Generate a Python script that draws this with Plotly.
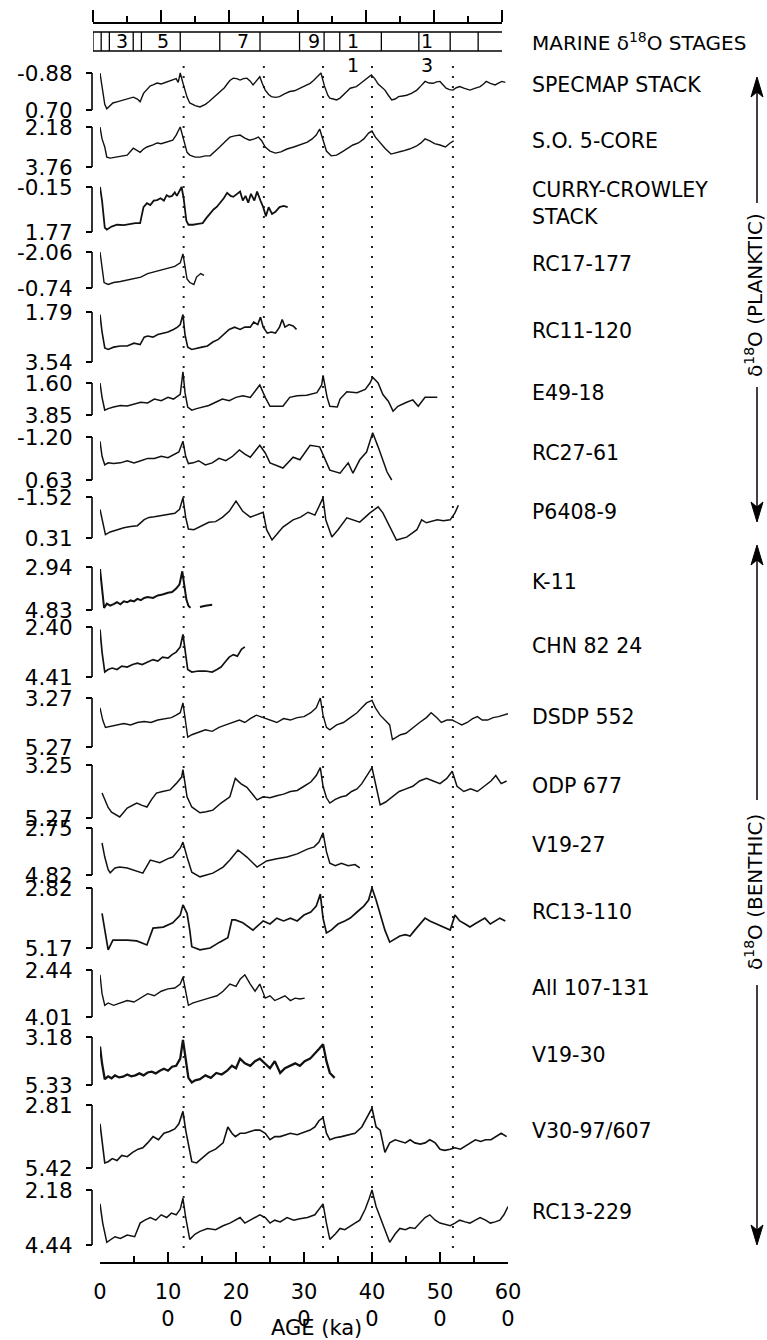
import plotly.graph_objects as go

W, H = 767, 1340

# ---------------- data ----------------
core_names = ["SPECMAP STACK", "S.O. 5-CORE", "CURRY-CROWLEY<br>STACK", "RC17-177", "RC11-120",
              "E49-18", "RC27-61", "P6408-9", "K-11", "CHN 82 24", "DSDP 552", "ODP 677",
              "V19-27", "RC13-110", "All 107-131", "V19-30", "V30-97/607", "RC13-229"]
top_vals = [-0.88, 2.18, -0.15, -2.06, 1.79, 1.60, -1.20, -1.52, 2.94, 2.40, 3.27, 3.25,
            2.75, 2.82, 2.44, 3.18, 2.81, 2.18]
bottom_vals = [0.70, 3.76, 1.77, -0.74, 3.54, 3.85, 0.63, 0.31, 4.83, 4.41, 5.27, 5.27,
               4.82, 5.17, 4.01, 5.33, 5.42, 4.44]

age_01 = [0,3,7,10,15,19,25,30,40,49,55,59,64,69,74,78,84,90,96,102,107,112,115,118,122,126,128,132,140,147,155,160,166,172,178,183,187,191,196,201,206,211,216,221,225,230,235,239,243,248,252,258,264,272,279,286,294,300,309,314,318,322,325,330,335,338,343,348,353,358,363,368,372,377,382,387,393,399,404,409,414,419,424,429,434,439,445,451,458,466,472,478,484,490,495,500,505,509,514,519,524,529,536,544,551,559,564,568,574,581,586,591,596]
d18o_01 = [-0.88,-0.25,0.46,0.65,0.51,0.40,0.35,0.31,0.23,0.15,0.23,0.35,-0.01,-0.15,-0.33,-0.37,-0.45,-0.41,-0.48,-0.53,-0.58,-0.64,-0.48,-0.88,-0.45,-0.01,0.15,0.40,0.51,0.57,0.46,0.35,0.19,0.07,-0.09,-0.25,-0.41,-0.56,-0.66,-0.64,-0.58,-0.64,-0.66,-0.53,-0.37,-0.56,-0.72,-0.41,-0.15,0.04,0.13,0.16,0.13,0.00,-0.09,-0.12,-0.23,-0.31,-0.44,-0.56,-0.66,-0.79,-0.88,-0.33,0.07,0.19,0.23,0.27,0.19,0.07,-0.09,-0.23,-0.26,-0.30,-0.41,-0.52,-0.64,-0.80,-0.64,-0.41,-0.28,-0.15,0.07,0.27,0.23,0.13,0.10,0.07,-0.01,-0.15,-0.33,-0.52,-0.45,-0.44,-0.50,-0.52,-0.36,-0.23,-0.17,-0.15,-0.25,-0.30,-0.22,-0.15,-0.22,-0.30,-0.41,-0.52,-0.44,-0.37,-0.45,-0.52,-0.48]

age_02 = [0,3,7,10,15,22,30,40,49,55,59,64,69,78,84,90,98,104,107,112,115,118,122,128,132,140,147,155,162,170,176,185,191,198,206,213,220,227,233,238,243,250,258,266,275,285,295,305,312,318,323,328,333,340,348,356,365,372,380,388,395,400,405,412,420,428,435,445,455,465,472,478,485,492,500,508,515,520]
d18o_02 = [2.18,2.65,2.97,3.37,3.41,3.37,3.32,3.29,3.02,3.13,3.18,3.05,2.97,2.89,2.81,2.84,2.78,2.73,2.70,2.50,2.31,2.18,2.58,3.18,3.29,3.37,3.37,3.32,3.32,3.13,2.97,2.73,2.58,2.53,2.50,2.62,2.70,2.65,2.58,2.73,2.97,3.13,3.21,3.16,3.05,2.97,2.89,2.78,2.65,2.50,2.26,2.73,3.13,3.32,3.29,3.16,3.00,2.89,2.81,2.65,2.42,2.34,2.58,2.81,3.05,3.25,3.21,3.13,3.05,2.94,2.81,2.65,2.73,2.84,2.89,2.97,2.81,2.73]

age_03 = [0,3,7,10,17,25,35,45,52,59,64,69,74,79,84,89,94,98,102,106,110,113,117,120,123,127,130,137,144,151,156,162,167,172,177,182,187,192,196,201,206,210,214,218,222,227,231,236,240,244,248,253,258,264,270,276]
d18o_03 = [-0.15,0.43,1.58,1.67,1.54,1.46,1.48,1.42,1.39,1.39,0.71,0.54,0.62,0.43,0.41,0.33,0.43,0.20,0.27,0.23,0.08,0.23,0.04,-0.15,0.33,1.29,1.46,1.46,1.42,1.39,1.19,0.96,0.81,0.69,0.52,0.33,0.10,0.23,0.27,0.14,0.04,0.43,0.23,0.52,0.14,0.43,0.04,0.43,0.71,1.10,0.71,1.00,0.91,0.71,0.66,0.71]

age_04 = [0,3,6,12,20,30,40,50,60,70,80,90,100,110,118,122,125,128,132,138,142,148,153]
d18o_04 = [-2.06,-1.40,-0.94,-0.87,-0.94,-0.98,-1.03,-1.07,-1.14,-1.27,-1.33,-1.40,-1.47,-1.53,-1.66,-1.99,-1.53,-1.07,-0.94,-0.87,-1.14,-1.27,-1.20]

age_05 = [0,3,7,12,20,30,40,50,59,65,70,78,85,92,100,108,114,118,122,125,129,135,142,150,158,166,174,182,190,198,206,213,221,226,232,236,240,246,252,258,264,268,272,278,284,289]
d18o_05 = [1.88,2.49,3.05,3.10,3.02,2.98,2.98,2.88,2.93,2.67,2.63,2.67,2.58,2.53,2.49,2.40,2.32,2.23,1.88,2.58,3.02,3.10,3.05,3.02,2.98,2.84,2.75,2.58,2.40,2.32,2.40,2.32,2.32,2.14,2.23,1.97,2.32,2.53,2.49,2.53,2.32,2.05,2.32,2.23,2.28,2.40]

age_06 = [0,3,7,12,20,30,40,50,60,70,80,90,100,108,114,118,122,125,129,135,142,150,160,170,180,190,200,210,221,235,243,250,260,269,279,290,304,319,326,328,334,338,349,353,363,378,390,397,401,409,416,424,431,438,451,460,468,478,487,496]
d18o_06 = [1.60,2.61,3.51,3.40,3.29,3.18,3.22,3.06,2.95,3.00,2.73,2.84,2.61,2.73,2.50,2.39,0.81,2.28,3.29,3.51,3.40,3.29,3.18,2.95,2.73,2.84,2.61,2.50,2.61,1.74,2.61,3.24,3.22,3.24,2.61,2.50,2.46,2.28,1.74,1.06,2.61,3.24,3.29,2.73,2.21,2.28,2.05,1.60,1.20,1.60,2.41,2.88,3.58,3.24,2.95,2.79,3.24,2.61,2.61,2.61]

age_07 = [0,3,7,12,20,30,40,50,60,70,80,90,100,110,116,122,126,130,137,145,155,165,175,185,195,205,213,221,235,243,250,269,284,294,309,323,338,353,365,372,382,392,401,409,416,422,429]
d18o_07 = [-1.02,-0.38,-0.01,-0.10,-0.07,-0.10,-0.19,-0.10,-0.19,-0.29,-0.29,-0.38,-0.32,-0.47,-0.56,-1.02,-0.38,-0.07,-0.10,-0.19,-0.01,-0.10,-0.29,-0.19,-0.38,-0.65,-0.47,-0.34,-0.85,-0.52,-0.10,0.12,-0.34,-0.23,-0.85,-0.78,0.21,0.34,-0.10,0.34,-0.23,-0.56,-1.38,-0.78,-0.23,0.28,0.63]

age_08 = [0,4,8,15,25,35,45,55,65,72,80,90,100,110,117,122,126,130,138,147,160,170,180,190,200,210,221,240,245,253,269,284,295,306,316,328,332,341,350,363,382,397,409,416,426,436,451,466,473,480,496,505,515,522,527]
d18o_08 = [-0.97,-0.42,0.16,0.04,-0.06,-0.15,-0.20,-0.24,-0.51,-0.61,-0.64,-0.70,-0.75,-0.79,-0.97,-1.48,-0.61,-0.09,-0.06,-0.20,-0.39,-0.42,-0.61,-0.88,-1.34,-0.88,-0.62,-0.84,-0.06,0.40,-0.18,-0.50,-0.62,-0.84,-0.71,-1.48,-0.50,0.27,-0.06,-0.59,-0.40,-0.81,-1.08,-0.81,-0.18,0.40,0.27,-0.06,-0.50,-0.37,-0.50,-0.46,-0.50,-0.81,-1.15]

age_09 = [0,3,6,10,15,20,25,30,35,40,45,50,55,60,65,70,78,85,92,100,106,112,117,121,124,127,130,133,None,147,155,165]
d18o_09 = [3.03,4.07,4.74,4.55,4.64,4.57,4.49,4.58,4.45,4.49,4.41,4.45,4.34,4.40,4.30,4.26,4.30,4.19,4.15,4.07,4.04,3.89,3.70,3.13,3.70,4.36,4.64,4.74,None,4.70,4.64,4.60]

age_10 = [0,3,7,12,18,25,32,40,48,55,62,70,78,85,92,100,106,112,118,122,125,129,135,145,155,165,172,178,184,190,196,202,208,213]
d18o_10 = [2.50,3.41,4.21,4.11,4.05,4.11,3.97,4.01,3.91,3.85,3.91,3.81,3.71,3.77,3.61,3.65,3.51,3.41,3.20,2.70,3.41,4.11,4.21,4.17,4.17,4.21,4.11,4.01,3.81,3.61,3.51,3.57,3.30,3.20]

age_11 = [0,4,8,15,25,35,45,55,65,75,85,95,105,112,118,122,126,129,135,145,155,165,175,185,195,205,213,221,230,240,250,260,270,280,290,300,310,318,324,328,333,338,348,358,368,378,385,392,400,405,412,419,426,430,436,442,450,460,470,480,487,495,502,510,518,525,532,540,548,555,562,570,578,586,594,600]
d18o_11 = [3.67,4.17,4.47,4.43,4.37,4.31,4.37,4.27,4.23,4.27,4.17,4.11,4.07,3.97,3.87,3.47,4.17,4.87,4.77,4.67,4.57,4.63,4.47,4.37,4.27,4.17,4.27,4.11,3.97,4.07,4.17,4.27,4.11,4.17,4.07,4.03,3.87,3.67,3.27,3.97,4.47,4.57,4.37,4.27,4.07,3.87,3.67,3.47,3.37,3.67,3.97,4.17,4.37,4.97,4.87,4.77,4.71,4.47,4.27,4.07,3.87,4.07,4.27,4.17,4.17,4.27,4.37,4.27,4.11,4.03,4.17,4.17,4.07,4.03,3.97,3.91]

age_12 = [3,7,12,17,29,40,54,62,69,76,83,92,103,112,120,122,125,128,135,147,156,166,178,191,199,207,216,231,240,250,260,270,280,290,300,310,318,324,328,333,338,346,355,362,370,378,385,392,400,406,412,420,430,440,450,460,470,480,490,500,510,518,525,535,545,555,565,575,582,590,598]
d18o_12 = [4.32,4.58,4.87,5.05,5.23,4.89,4.70,4.79,4.85,4.56,4.32,4.26,4.20,3.96,3.71,3.43,3.94,4.46,4.85,5.07,5.03,4.97,4.70,4.46,3.76,3.96,4.10,4.58,4.46,4.50,4.42,4.36,4.26,4.22,4.06,3.90,3.65,3.35,4.06,4.50,4.70,4.56,4.46,4.42,4.26,4.16,3.96,3.65,3.35,4.06,4.77,4.66,4.46,4.26,4.16,4.06,3.86,3.76,3.86,3.96,3.76,3.49,4.06,4.26,4.16,4.26,4.06,3.86,3.65,3.96,3.86]

age_13 = [3,7,12,15,22,29,40,51,63,74,88,100,107,118,122,128,135,147,166,181,191,203,216,231,245,260,275,290,305,315,322,328,333,338,346,355,365,375,382]
d18o_13 = [3.41,4.03,4.59,4.72,4.51,4.47,4.51,4.61,4.74,4.16,4.28,4.10,4.03,3.64,3.37,4.03,4.70,4.90,4.74,4.47,4.16,3.72,4.03,4.47,4.20,4.10,4.03,3.89,3.68,3.58,3.37,2.96,3.79,4.30,4.41,4.30,4.41,4.36,4.51]

age_14 = [3,7,12,19,26,40,54,69,78,93,107,118,122,128,132,135,147,162,176,188,194,199,210,225,240,250,260,270,280,290,300,310,318,324,328,333,340,350,360,368,378,388,395,400,406,412,419,426,434,441,449,456,463,470,478,485,495,505,515,522,529,537,544,551,559,566,574,581,588,596]
d18o_14 = [3.81,4.47,5.24,4.86,4.86,4.86,4.89,5.05,4.39,4.35,4.18,3.88,3.48,3.81,4.47,5.12,5.24,5.17,4.94,4.77,4.07,4.07,4.18,4.47,4.11,4.23,4.00,4.11,4.00,4.11,3.88,3.76,3.53,3.06,4.00,4.58,4.47,4.23,4.11,4.00,3.76,3.53,3.29,2.82,3.29,3.88,4.47,4.94,4.82,4.70,4.65,4.70,4.47,4.23,4.00,4.11,4.23,4.35,4.47,3.88,4.11,4.23,4.35,4.23,4.11,4.00,4.23,4.11,4.00,4.11]

age_15 = [0,3,7,12,20,30,40,50,60,70,80,90,100,110,118,122,126,130,137,147,160,172,181,191,200,206,213,221,228,235,243,250,257,265,272,280,287,294,301]
d18o_15 = [2.60,3.23,3.62,3.54,3.62,3.54,3.46,3.51,3.38,3.23,3.30,3.15,3.07,3.04,2.91,2.68,3.15,3.62,3.54,3.46,3.38,3.30,3.15,2.91,2.99,2.75,2.60,2.91,3.15,2.91,3.38,3.30,3.46,3.38,3.30,3.46,3.38,3.41,3.38]

age_16 = [0,3,7,12,17,22,28,34,40,46,52,58,64,70,76,82,88,94,100,106,112,118,122,126,130,135,140,147,155,163,171,179,187,194,200,206,213,221,228,235,243,250,257,265,272,280,287,294,301,309,316,322,328,333,338,345]
d18o_16 = [3.61,4.36,5.07,4.94,5.03,4.90,4.99,4.96,4.86,4.94,4.90,4.81,4.90,4.77,4.73,4.81,4.69,4.60,4.69,4.51,4.47,4.15,3.31,4.26,5.01,5.22,5.12,5.07,4.90,5.01,4.79,4.86,4.69,4.47,4.58,4.15,4.36,4.47,4.26,4.15,4.36,4.58,4.26,4.79,4.58,4.47,4.36,4.47,4.26,4.15,3.93,3.72,3.50,4.26,4.79,5.01]

age_17 = [0,3,7,12,18,25,32,40,48,56,63,70,78,86,94,102,110,116,122,126,130,135,142,150,160,170,181,188,194,199,206,213,221,228,235,243,250,257,265,272,280,290,300,309,316,322,328,333,338,346,355,365,375,385,393,400,406,412,419,426,434,441,449,456,463,471,478,485,493,500,507,515,522,530,537,545,552,560,567,575,582,590,598]
d18o_17 = [3.59,4.38,5.21,5.16,5.03,5.11,4.90,4.95,4.77,4.64,4.58,4.38,4.12,4.25,3.98,3.91,3.80,3.59,3.07,3.85,4.51,5.16,5.21,5.03,4.77,4.64,4.38,3.72,3.98,4.12,3.98,3.98,3.91,3.85,3.85,3.98,4.25,4.12,4.12,4.06,3.98,4.04,3.93,3.85,3.72,3.46,3.33,3.98,4.25,4.17,4.12,4.06,3.98,3.72,3.33,2.94,3.72,3.85,4.77,4.38,4.25,4.32,4.38,4.25,4.38,4.43,4.38,4.25,4.38,4.64,4.69,4.64,4.58,4.64,4.51,4.38,4.25,4.32,4.25,4.25,4.12,3.98,4.12]

age_18 = [0,4,10,16,22,30,40,51,59,66,74,82,90,98,105,112,118,122,126,132,140,147,158,170,181,191,199,206,213,221,228,235,243,250,257,265,275,285,294,305,316,322,328,333,338,346,353,360,368,375,382,390,396,400,406,412,419,426,434,441,449,456,463,471,478,485,493,500,507,515,522,529,537,544,552,559,567,574,581,588,594,600]
d18o_18 = [2.75,3.54,4.33,4.21,4.10,4.17,4.03,4.10,3.54,3.42,3.31,3.42,3.20,3.31,3.13,3.20,2.97,2.52,3.31,4.21,3.99,3.88,3.76,3.81,3.65,3.54,3.42,3.31,3.54,3.42,3.31,3.20,3.31,3.54,3.42,3.49,3.31,3.42,3.36,3.31,3.20,2.97,2.75,3.54,4.21,3.99,3.76,3.81,3.65,3.54,3.42,2.97,2.52,2.18,2.86,3.31,3.76,4.33,3.99,3.76,3.81,3.72,3.76,3.54,3.31,3.20,3.42,3.54,3.58,3.65,3.54,3.42,3.49,3.54,3.42,3.31,3.42,3.54,3.49,3.42,3.20,2.86]

ages = [age_01, age_02, age_03, age_04, age_05, age_06, age_07, age_08, age_09,
        age_10, age_11, age_12, age_13, age_14, age_15, age_16, age_17, age_18]
d18o = [d18o_01, d18o_02, d18o_03, d18o_04, d18o_05, d18o_06, d18o_07, d18o_08, d18o_09,
        d18o_10, d18o_11, d18o_12, d18o_13, d18o_14, d18o_15, d18o_16, d18o_17, d18o_18]

age_ticks = [0, 100, 200, 300, 400, 500, 600]
age_ticktext = ["0", "10<br>0", "20<br>0", "30<br>0", "40<br>0", "50<br>0", "60<br>0"]
age_minor = [50, 150, 250, 350, 450, 550]

stage_boundaries = [12, 24, 59, 71, 128, 186, 245, 303, 339, 362, 423, 478, 524, 565]
stage_labels = ["3", "5", "7", "9", "1", "1"]
stage_label_ages = [42, 103, 220, 324, 381, 490]
stage_label2 = ["", "", "", "", "1", "3"]
terminations = [123, 241, 328, 400, 519]

# ---------------- layout geometry (pixels) ----------------
row_top_px = [73, 127, 187, 252, 312, 383, 437, 497, 567, 627, 698, 765, 828, 888, 970, 1037, 1105, 1190]
row_bot_px = [110, 167, 232, 288, 362, 415, 480, 538, 610, 677, 747, 818, 875, 948, 1017, 1085, 1168, 1245]
line_widths = [1.4, 1.4, 1.8, 1.4, 1.6, 1.5, 1.5, 1.5, 2.0, 1.7, 1.4, 1.5, 1.5, 1.7, 1.4, 2.3, 1.6, 1.5]

FONT = "DejaVu Sans"
X0, X1 = 100 / W, 508 / W
YAX_POS = 92 / W


def py(p):
    return 1 - p / H


fig = go.Figure()
layout = dict(width=W, height=H, margin=dict(l=0, r=0, t=0, b=0, pad=0, autoexpand=False),
              paper_bgcolor="white", plot_bgcolor="rgba(0,0,0,0)",
              showlegend=False, font=dict(family=FONT, color="black"))
shapes = []
annotations = []

for i in range(18):
    k = i + 1
    xa = "x" if k == 1 else f"x{k}"
    ya = "y" if k == 1 else f"y{k}"
    fig.add_trace(go.Scatter(x=ages[i], y=d18o[i], mode="lines", xaxis=xa, yaxis=ya,
                             line=dict(color="#111111", width=line_widths[i]),
                             connectgaps=False, hoverinfo="skip"))
    t, b = top_vals[i], bottom_vals[i]
    tp, bp = row_top_px[i], row_bot_px[i]
    pad_t, pad_b = 16, 10

    def v_at(p):
        return t + (p - tp) / (bp - tp) * (b - t)

    layout["xaxis" if k == 1 else f"xaxis{k}"] = dict(domain=[X0, X1], range=[0, 600], visible=False,
                                                      anchor=ya, fixedrange=True)
    layout["yaxis" if k == 1 else f"yaxis{k}"] = dict(
        domain=[py(bp + pad_b), py(tp - pad_t)], range=[v_at(bp + pad_b), v_at(tp - pad_t)],
        anchor="free", position=YAX_POS, tickvals=[t, b], ticktext=[f"{t:.2f}", f"{b:.2f}"],
        ticks="outside", ticklen=6, tickwidth=1.6, tickcolor="black", showline=False,
        showgrid=False, zeroline=False, ticklabelstandoff=9, automargin=False,
        tickfont=dict(size=21.5, family=FONT, color="black"), fixedrange=True)
    shapes.append(dict(type="line", xref="paper", yref=ya, x0=YAX_POS, x1=YAX_POS, y0=t, y1=b,
                       line=dict(color="black", width=1.6)))
    yc = (tp + bp) / 2 - 6
    annotations.append(dict(x=530 / W, y=py(yc), xref="paper", yref="paper", xanchor="left",
                            yanchor="middle", align="left", text=core_names[i], showarrow=False,
                            font=dict(size=20.5, family=FONT, color="black")))

# bottom age axis
fig.add_trace(go.Scatter(x=[0], y=[0], mode="markers", marker=dict(opacity=0), xaxis="x19",
                         yaxis="y19", hoverinfo="skip"))
layout["xaxis19"] = dict(domain=[X0, X1], range=[0, 600], anchor="free", position=py(1263),
                         side="bottom", showline=True, linecolor="black", linewidth=1.6,
                         ticks="inside", ticklen=10, tickwidth=1.6, tickcolor="black",
                         tickvals=age_ticks, ticktext=age_ticktext, showgrid=False, zeroline=False,
                         tickfont=dict(size=21, family=FONT, color="black"), ticklabelstandoff=10,
                         automargin=False,
                         minor=dict(tickvals=age_minor, ticks="inside", ticklen=6, tickwidth=1.6,
                                    tickcolor="black"), fixedrange=True)
layout["yaxis19"] = dict(domain=[0, 0.02], visible=False, anchor="x19", fixedrange=True)

# top stage axis
TX0, TX1 = 93 / W, 502 / W
fig.add_trace(go.Scatter(x=[0], y=[0], mode="markers", marker=dict(opacity=0), xaxis="x20",
                         yaxis="y20", hoverinfo="skip"))
layout["xaxis20"] = dict(domain=[TX0, TX1], range=[0, 600], anchor="free", position=py(23),
                         side="top", showline=True, linecolor="black", linewidth=1.6,
                         ticks="outside", ticklen=12, tickwidth=1.6, tickcolor="black",
                         tickvals=age_ticks, showticklabels=False, showgrid=False, zeroline=False,
                         automargin=False,
                         minor=dict(tickvals=age_minor, ticks="outside", ticklen=6, tickwidth=1.6,
                                    tickcolor="black"), fixedrange=True)
layout["yaxis20"] = dict(domain=[0.98, 1.0], visible=False, anchor="x20", fixedrange=True)

# stage box
for yy in (32, 51):
    shapes.append(dict(type="line", xref="x20", yref="paper", x0=0, x1=600, y0=py(yy), y1=py(yy),
                       line=dict(color="black", width=1.3)))
for a in [0] + stage_boundaries:
    shapes.append(dict(type="line", xref="x20", yref="paper", x0=a, x1=a, y0=py(32), y1=py(51),
                       line=dict(color="black", width=1.3)))
for lab, lab2, a in zip(stage_labels, stage_label2, stage_label_ages):
    annotations.append(dict(x=a, y=py(41.5), xref="x20", yref="paper", text=lab, showarrow=False,
                            xanchor="center", yanchor="middle",
                            font=dict(size=19, family=FONT, color="black")))
    if lab2:
        annotations.append(dict(x=a, y=py(65), xref="x20", yref="paper", text=lab2, showarrow=False,
                                xanchor="center", yanchor="middle",
                                font=dict(size=19, family=FONT, color="black")))
annotations.append(dict(x=530 / W, y=py(42), xref="paper", yref="paper", xanchor="left",
                        yanchor="middle", text="MARINE δ<sup>18</sup>O STAGES", showarrow=False,
                        font=dict(size=20, family=FONT, color="black")))

# termination dotted lines
for a in terminations:
    shapes.append(dict(type="line", xref="x", yref="paper", x0=a, x1=a, y0=py(66), y1=py(1252),
                       layer="below", line=dict(color="#222222", width=2, dash="2px,8px")))

# x-axis title
annotations.append(dict(x=316 / W, y=py(1328), xref="paper", yref="paper", text="AGE (ka)",
                        showarrow=False, xanchor="center", yanchor="middle",
                        font=dict(size=21, family=FONT, color="black")))

# right side group arrows
AX = 757


def arrow_head(tip, up):
    s = 1 if up else -1
    pts = [(AX, tip), (AX - 6, tip + s * 20), (AX, tip + s * 15), (AX + 6, tip + s * 20)]
    path = "M " + " L ".join(f"{x / W:.5f},{py(y):.5f}" for x, y in pts) + " Z"
    return dict(type="path", xref="paper", yref="paper", path=path, fillcolor="black",
                line=dict(color="black", width=1))


def vline(y0, y1):
    return dict(type="line", xref="paper", yref="paper", x0=AX / W, x1=AX / W, y0=py(y0), y1=py(y1),
                line=dict(color="black", width=1.5))


shapes += [arrow_head(77, True), vline(92, 203), vline(387, 507), arrow_head(522, False),
           arrow_head(545, True), vline(560, 800), vline(985, 1230), arrow_head(1245, False)]
annotations.append(dict(x=754 / W, y=py(295), xref="paper", yref="paper", textangle=-90,
                        text="δ<sup>18</sup>O (PLANKTIC)", showarrow=False, xanchor="center",
                        yanchor="middle", font=dict(size=20, family=FONT, color="black")))
annotations.append(dict(x=754 / W, y=py(892), xref="paper", yref="paper", textangle=-90,
                        text="δ<sup>18</sup>O (BENTHIC)", showarrow=False, xanchor="center",
                        yanchor="middle", font=dict(size=20, family=FONT, color="black")))

layout["shapes"] = shapes
layout["annotations"] = annotations
fig.update_layout(**layout)
fig.write_html("out.html", config={"displayModeBar": False},
               post_script="document.body.style.margin='0';document.body.style.padding='0';"
                           "document.documentElement.style.overflow='hidden';"
                           "document.body.style.overflow='hidden';")
